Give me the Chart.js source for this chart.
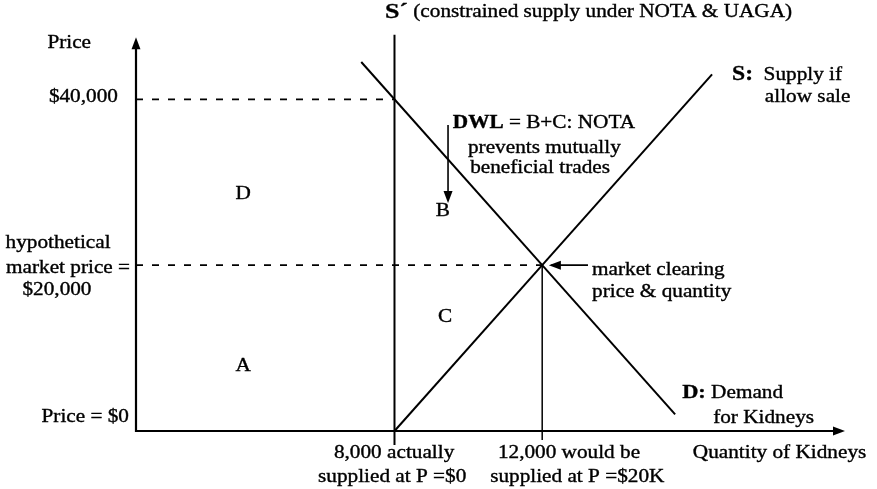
<!DOCTYPE html>
<html>
<head>
<meta charset="utf-8">
<script src="https://cdn.jsdelivr.net/npm/chart.js@4.4.1/dist/chart.umd.min.js"></script>
<style>
  html, body { margin: 0; padding: 0; background: #fff; }
</style>
</head>
<body>
<canvas id="chart" width="877" height="489"></canvas>
<script>
// quantity of kidneys (x) against price in dollars (y)
const supplyQty = [8000, 12000, 16600];
const supplyPrice = [0, 20000, 43000];
const demandQty = [7100, 12000, 15600];
const demandPrice = [44500, 20000, 2000];
const constrainedQty = [8000, 8000];          // S' vertical
const constrainedPrice = [-1700, 47800];
const clearingQty = [12000, 12000];            // drop line at 12,000
const clearingPrice = [-1100, 20000];
const guidePrices = [40000, 20000];            // dashed price guides
const guideEnds = [8000, 12000];

const X_MIN = 1000, X_MAX = 20200, Y_MIN = 0, Y_MAX = 48000, Y_ARROW = 47500;
const FONT = '"Liberation Serif", "Times New Roman", serif';
const SX = 1.18; // the picture's lettering is wide

function pts(xs, ys) {
  return xs.map((x, i) => ({ x: x, y: ys[i] }));
}

const datasets = [
  { data: pts(supplyQty, supplyPrice), borderWidth: 2 },
  { data: pts(demandQty, demandPrice), borderWidth: 2 },
  { data: pts(constrainedQty, constrainedPrice), borderWidth: 2 },
  { data: pts(clearingQty, clearingPrice), borderWidth: 1.5 }
];
guidePrices.forEach((p, i) => {
  datasets.push({ data: [{ x: X_MIN, y: p }, { x: guideEnds[i], y: p }], borderWidth: 1.6, borderDash: [7, 9] });
});
datasets.forEach(d => {
  d.showLine = true;
  d.pointRadius = 0;
  d.borderColor = '#000';
  d.clip = false;
});

// annotation text, placed in data units
const notes = [
  { x: -1400, y: 46800, parts: [['Price']] },
  { x: 510, y: 40200, align: 'right', parts: [['$40,000']] },
  { x: 3900, y: 28500, align: 'center', parts: [['D']] },
  { x: 3900, y: 7840, align: 'center', parts: [['A']] },
  { x: -1110, y: 22670, align: 'center', parts: [['hypothetical']] },
  { x: -840, y: 19660, align: 'center', parts: [['market price =']] },
  { x: -1140, y: 17000, align: 'center', parts: [['$20,000']] },
  { x: 810, y: 1690, align: 'right', parts: [['Price = $0']] },
  { x: 6360, y: -2650, parts: [['8,000 actually']] },
  { x: 5930, y: -5550, parts: [['supplied at P =$0']] },
  { x: 10800, y: -2650, parts: [['12,000 would be']] },
  { x: 10590, y: -5550, parts: [['supplied at P =$20K']] },
  { x: 16080, y: -2650, parts: [['Quantity of Kidneys']] },
  { x: 15790, y: 4580, parts: [['D:', true, 19], [' Demand']] },
  { x: 16630, y: 1570, parts: [['for Kidneys']] },
  { x: 13350, y: 19420, parts: [['market clearing']] },
  { x: 13350, y: 16760, parts: [['price & quantity']] },
  { x: 9370, y: 13750, align: 'center', parts: [['C']] },
  { x: 9310, y: 26530, align: 'center', parts: [['B']] },
  { x: 9580, y: 37150, parts: [['DWL', true], [' = B+C: NOTA']] },
  { x: 9990, y: 34130, parts: [['prevents mutually']] },
  { x: 10050, y: 31720, parts: [['beneficial trades']] },
  { x: 7740, y: 50530, parts: [['S\u00B4', true, 22], [' (constrained supply under NOTA & UAGA)']] },
  { x: 17140, y: 42930, parts: [['S:', true, 20], ['  Supply if']] },
  { x: 18030, y: 40280, parts: [['allow sale']] }
];

// arrows: [x0, y0, x1, y1] in data units, head at the second point
const arrows = [
  [13240, 20000, 12180, 20000],
  [9450, 36900, 9450, 27500]
];

function head(ctx, x0, y0, x1, y1) {
  const a = Math.atan2(y1 - y0, x1 - x0);
  ctx.beginPath();
  ctx.moveTo(x1, y1);
  ctx.lineTo(x1 - 12 * Math.cos(a) + 4.5 * Math.sin(a), y1 - 12 * Math.sin(a) - 4.5 * Math.cos(a));
  ctx.lineTo(x1 - 12 * Math.cos(a) - 4.5 * Math.sin(a), y1 - 12 * Math.sin(a) + 4.5 * Math.cos(a));
  ctx.closePath();
  ctx.fill();
}

const decor = {
  id: 'decor',
  afterDraw(chart) {
    const ctx = chart.ctx;
    const xs = chart.scales.x, ys = chart.scales.y;
    ctx.save();
    ctx.strokeStyle = '#000';
    ctx.fillStyle = '#000';
    // axes
    const ox = xs.getPixelForValue(X_MIN), oy = ys.getPixelForValue(Y_MIN);
    const tx = xs.getPixelForValue(X_MAX), ty = ys.getPixelForValue(Y_ARROW);
    ctx.lineWidth = 2.2;
    ctx.beginPath();
    ctx.moveTo(ox, ty + 6);
    ctx.lineTo(ox, oy);
    ctx.lineTo(tx - 6, oy);
    ctx.stroke();
    head(ctx, ox, oy, ox, ty);
    head(ctx, ox, oy, tx, oy);
    // arrows
    ctx.lineWidth = 1.6;
    arrows.forEach(a => {
      const x0 = xs.getPixelForValue(a[0]), y0 = ys.getPixelForValue(a[1]);
      const x1 = xs.getPixelForValue(a[2]), y1 = ys.getPixelForValue(a[3]);
      ctx.beginPath();
      ctx.moveTo(x0, y0);
      ctx.lineTo(x1 - (x1 - x0) * 0.06, y1 - (y1 - y0) * 0.06);
      ctx.stroke();
      head(ctx, x0, y0, x1, y1);
    });
    // text
    ctx.textBaseline = 'middle';
    ctx.lineWidth = 0.35;
    notes.forEach(n => {
      const fonts = n.parts.map(p => (p[1] ? 'bold ' : '') + (p[2] || 18) + 'px ' + FONT);
      let w = 0;
      n.parts.forEach((p, i) => { ctx.font = fonts[i]; w += ctx.measureText(p[0]).width; });
      let px = xs.getPixelForValue(n.x);
      const py = ys.getPixelForValue(n.y);
      if (n.align === 'center') px -= w * SX / 2;
      if (n.align === 'right') px -= w * SX;
      ctx.save();
      ctx.translate(px, py);
      ctx.scale(SX, 1);
      ctx.textAlign = 'left';
      let cx = 0;
      n.parts.forEach((p, i) => {
        ctx.font = fonts[i];
        ctx.fillText(p[0], cx, 0);
        ctx.strokeText(p[0], cx, 0);
        cx += ctx.measureText(p[0]).width;
      });
      ctx.restore();
    });
    ctx.restore();
  }
};

new Chart(document.getElementById('chart'), {
  type: 'scatter',
  data: { datasets: datasets },
  options: {
    responsive: false,
    animation: false,
    layout: { padding: { left: 136, top: 33, right: 32, bottom: 58 } },
    plugins: { legend: { display: false }, tooltip: { enabled: false } },
    scales: {
      x: { type: 'linear', min: X_MIN, max: X_MAX, display: false },
      y: { type: 'linear', min: Y_MIN, max: Y_MAX, display: false }
    }
  },
  plugins: [decor]
});
</script>
</body>
</html>
